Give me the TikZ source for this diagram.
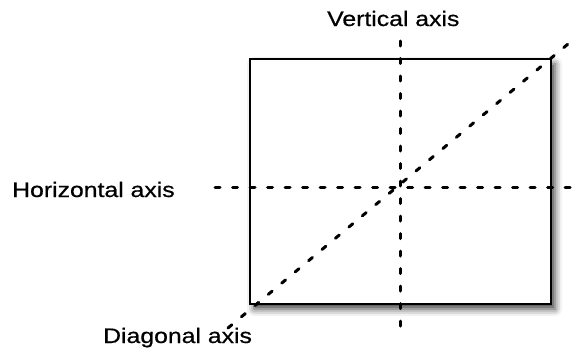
\documentclass[tikz,border=0pt]{standalone}
\usepackage{fontspec}
\setmainfont{Liberation Sans}[FakeStretch=1.18, FakeBold=0.6]
\usetikzlibrary{shadows.blur}

\tikzset{
    axisline/.style={line width=3bp, line cap=round, dash pattern=on 5bp off 12.5bp},
    axislabel/.style={inner sep=0pt, anchor=base west, font=\fontsize{21bp}{25bp}\selectfont},
}

\begin{document}
\begin{tikzpicture}[x=1bp,y=1bp]

        % ===================================================
        % Canvas
        % ===================================================
        \useasboundingbox (0,0) rectangle (574,351);

        % ===================================================
        % Frame with drop shadow
        % ===================================================
        \node[draw, line width=1.6bp, fill=white, inner sep=0pt, minimum width=301bp, minimum height=245bp,
              blur shadow={shadow xshift=4bp, shadow yshift=-5bp, shadow blur radius=7bp, shadow opacity=75}]
              (frame) at (400.5,169.5) {};

        % ===================================================
        % Axis end points
        % ===================================================
        \coordinate (Vtop) at (400,310);
        \coordinate (Vbot) at (400,24);
        \coordinate (Hleft) at (215,164);
        \coordinate (Hright) at (574,164);
        \coordinate (Dlow) at (228,23);
        \coordinate (Dhigh) at (574,312);

        % ===================================================
        % Dashed axes
        % ===================================================
        \draw[axisline] (Vtop) -- (Vbot);
        \draw[axisline] (Hleft) -- (Hright);
        \draw[axisline] (Dlow) -- (Dhigh);

        % ===================================================
        % Labels
        % ===================================================
        \node[axislabel] (vlabel) at (327,325) {Vertical axis};
        \node[axislabel] (hlabel) at (12,154) {Horizontal axis};
        \node[axislabel] (dlabel) at (103,8) {Diagonal axis};

    \end{tikzpicture}
\end{document}
